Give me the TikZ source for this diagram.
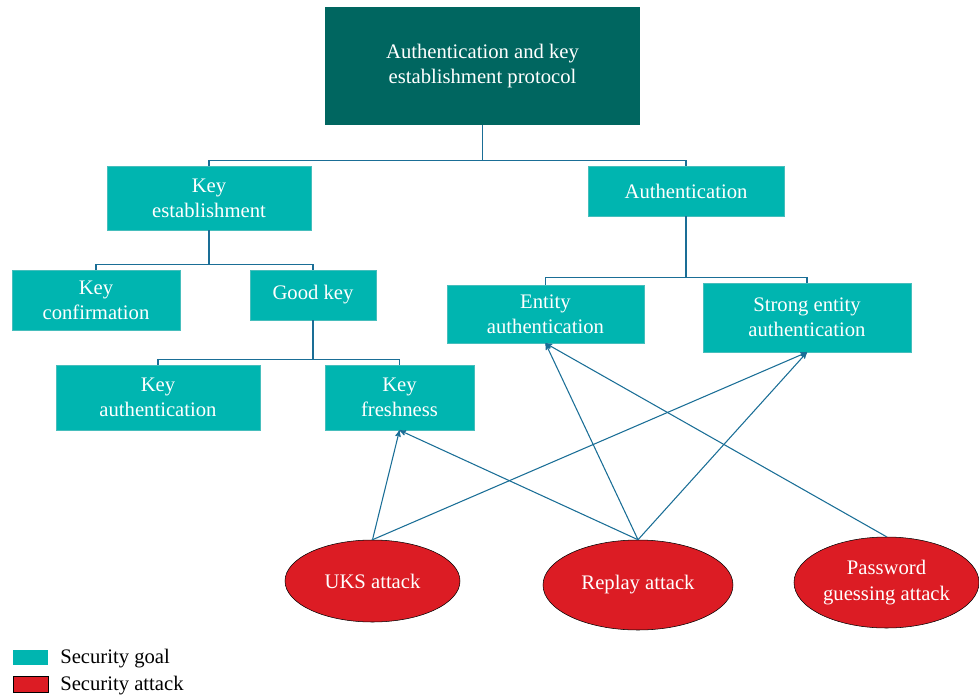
\documentclass[tikz,border=0pt]{standalone}
\usepackage{fontspec}
\setmainfont{Liberation Serif}
\usetikzlibrary{arrows,shapes.geometric}
\definecolor{darkteal}{RGB}{0,102,96}
\definecolor{goalteal}{RGB}{0,181,176}
\definecolor{goaledge}{RGB}{70,190,188}
\definecolor{attackred}{RGB}{220,28,36}
\definecolor{linkblue}{RGB}{26,110,150}
\tikzset{
    root/.style =   {rectangle,
                    fill=darkteal,
                    text=white,
                    align=center,
                    inner sep=0pt},
    goal/.style =   {rectangle,
                    fill=goalteal,
                    draw=goaledge,
                    thin,
                    text=white,
                    align=center,
                    inner sep=0pt},
    attack/.style = {ellipse,
                    fill=attackred,
                    draw=black,
                    thin,
                    text=white,
                    align=center,
                    inner sep=0pt},
    tree/.style =   {draw=linkblue,
                    line width=0.9pt},
    hit/.style =    {draw=linkblue,
                    line width=0.8pt,
                    ->},
    >=stealth'}
\begin{document}
\begin{tikzpicture}[x=0.75pt,y=-0.75pt,
        font=\fontsize{15.5}{19}\selectfont]
    \useasboundingbox (0,0) rectangle (979,696);
    % goals
    \node[root, minimum width=236.25pt, minimum height=88.5pt]  (proto)  at (482.5,66)  {Authentication and key\\establishment protocol};
    \node[goal, minimum width=153pt, minimum height=48pt]       (keyest) at (209,198)   {Key\\establishment};
    \node[goal, minimum width=147pt, minimum height=37.5pt]     (auth)   at (686,191)   {Authentication};
    \node[goal, minimum width=126pt, minimum height=45pt]       (keyconf) at (96,300)   {Key\\confirmation};
    \node[goal, minimum width=94.5pt, minimum height=37.5pt]    (goodkey) at (313,295)  {Good key};
    \node[goal, minimum width=153pt, minimum height=48.75pt]    (keyauth) at (158,397.5) {Key\\authentication};
    \node[goal, minimum width=111.75pt, minimum height=48.75pt] (keyfresh) at (399.5,397.5) {Key\\freshness};
    \node[goal, minimum width=147.75pt, minimum height=43.5pt]  (entauth) at (545.5,314) {Entity\\authentication};
    \node[goal, minimum width=156pt, minimum height=51.75pt]    (strongauth) at (807,317.5) {Strong entity\\authentication};
    % attacks
    \node[attack, minimum width=131.25pt, minimum height=61.5pt]  (uks)    at (372.5,581) {UKS attack};
    \node[attack, minimum width=142.5pt, minimum height=67.5pt]   (replay) at (638,585)   {Replay attack};
    \node[attack, minimum width=138.75pt, minimum height=68.25pt] (pwd)    at (886.5,582.5) {Password\\guessing attack};
    % tree
    \draw[tree] (proto.south) -- ++(0,35) -| (keyest.north);
    \draw[tree] (proto.south) -- ++(0,35) -| (auth.north);
    \draw[tree] (keyest.south) -- ++(0,34) -| (keyconf.north);
    \draw[tree] (keyest.south) -- ++(0,34) -| (goodkey.north);
    \draw[tree] (goodkey.south) -- ++(0,39) -| (keyauth.north);
    \draw[tree] (goodkey.south) -- ++(0,39) -| (keyfresh.north);
    \draw[tree] (auth.south) -- ++(0,61) -| (entauth.north);
    \draw[tree] (auth.south) -- ++(0,61) -| (strongauth.north);
    % attacks on goals
    \draw[hit] (uks.north) -- (keyfresh.south);
    \draw[hit] (uks.north) -- (strongauth.south);
    \draw[hit] (replay.north) -- (keyfresh.south);
    \draw[hit] (replay.north) -- (entauth.south);
    \draw[hit] (replay.north) -- (strongauth.south);
    \draw[hit] (pwd.north) -- (entauth.south);
    % legend
    \node[rectangle, fill=goalteal, minimum width=26.25pt, minimum height=11.25pt, inner sep=0pt] (goalbox) at (30.5,657.5) {};
    \node[rectangle, fill=attackred, draw=black, minimum width=26.25pt, minimum height=12pt, inner sep=0pt] (attackbox) at (30.5,684) {};
    \node[anchor=west, inner sep=0pt] (goallbl) at (60,659) {Security goal};
    \node[anchor=west, inner sep=0pt] (attacklbl) at (60,685.5) {Security attack};
\end{tikzpicture}
\end{document}
